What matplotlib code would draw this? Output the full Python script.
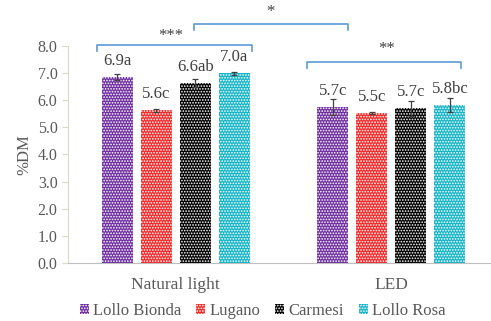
import numpy as np
import matplotlib.pyplot as plt

plt.rcParams['font.family'] = ['Liberation Serif', 'DejaVu Serif']
plt.rcParams['hatch.linewidth'] = 0.8

groups = ['Natural light', 'LED']
cultivars = ['Lollo Bionda', 'Lugano', 'Carmesi', 'Lollo Rosa']
colors = ['#7030A0', '#F52A2A', '#000000', '#17B5C6']

means = {
    'Lollo Bionda': [6.85, 5.75],
    'Lugano': [5.63, 5.53],
    'Carmesi': [6.63, 5.71],
    'Lollo Rosa': [6.99, 5.83],
}
errors = {
    'Lollo Bionda': [0.12, 0.28],
    'Lugano': [0.06, 0.04],
    'Carmesi': [0.15, 0.28],
    'Lollo Rosa': [0.06, 0.27],
}
labels = {
    'Lollo Bionda': ['6.9a', '5.7c'],
    'Lugano': ['5.6c', '5.5c'],
    'Carmesi': ['6.6ab', '5.7c'],
    'Lollo Rosa': ['7.0a', '5.8bc'],
}

grey = '#595959'
blue = '#5B9BD5'

fig = plt.figure(figsize=(4.91, 3.21), dpi=100)
ax = fig.add_axes([0.1385, 0.1807, 0.878, 0.676])

x = np.arange(len(groups))
width = 0.144
step = 0.181

bars = []
for i, name in enumerate(cultivars):
    pos = x + (i - 1.5) * step
    b = ax.bar(pos, means[name], width, color=colors[i], edgecolor='white',
               linewidth=0, hatch='......', label=name, zorder=2)
    ax.errorbar(pos, means[name], yerr=errors[name], fmt='none',
                ecolor='#404040', elinewidth=0.9, capsize=2.5, capthick=0.9, zorder=3)
    for p, v, t in zip(pos, means[name], labels[name]):
        ax.annotate(t, (p, v), xytext=(0, 6), textcoords='offset points',
                    ha='center', va='bottom', fontsize=12, color='#404040')
    bars.append(b)

ax.set_xlim(-0.5, 1.5)
ax.set_ylim(0, 8)
ax.set_yticks(np.arange(0, 8.1, 1.0))
ax.set_yticklabels([f'{v:.1f}' for v in np.arange(0, 8.1, 1.0)])
ax.set_xticks(x)
ax.set_xticklabels(groups, fontsize=12.5)
ax.tick_params(axis='x', length=0, pad=10, colors=grey)
ax.tick_params(axis='y', length=4, colors='#D9D9C6', labelcolor=grey, labelsize=11.5)
ax.set_ylabel('%DM', fontsize=12, color=grey, labelpad=4)

for s in ['top', 'right']:
    ax.spines[s].set_visible(False)
ax.spines['left'].set_color('#D9D9C6')
ax.spines['bottom'].set_color('#BFBFBF')


def bracket(x0, x1, y, drop, text, ty, tx):
    ax.plot([x0, x0, x1, x1], [y - drop, y, y, y - drop], color=blue,
            lw=1.2, clip_on=False, zorder=4)
    ax.text(tx, ty, text, ha='center', va='center', fontsize=12,
            color='#404040', clip_on=False)


bracket(-0.365, 0.354, 8.04, 0.22, '***', 8.38, -0.022)
bracket(0.085, 0.80, 8.82, 0.22, '*', 9.26, 0.437)
bracket(0.609, 1.324, 7.42, 0.22, '**', 7.9, 0.976)

fig.legend(handles=bars, labels=cultivars, loc='center', ncol=4,
           bbox_to_anchor=(0.535, 0.03), frameon=False, fontsize=12,
           handlelength=0.55, handleheight=0.55, handletextpad=0.25,
           columnspacing=0.9, labelcolor=grey)

fig.savefig('out.png', dpi=100)
